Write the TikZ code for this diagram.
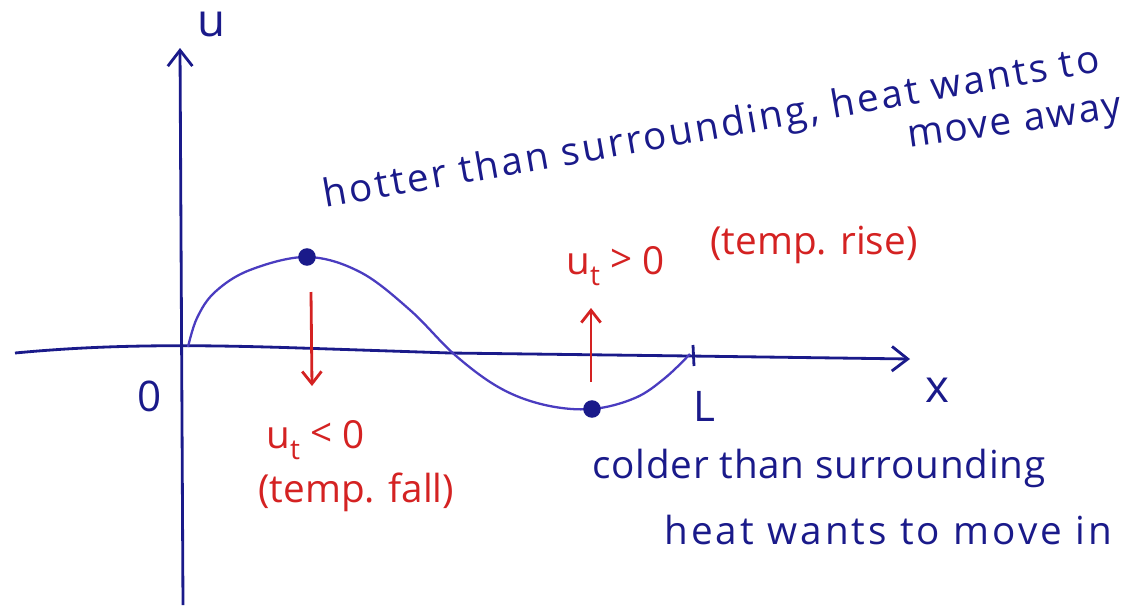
\documentclass[tikz,border=0pt]{standalone}
\usepackage{fontspec}
\setmainfont{Open Sans}
\usetikzlibrary{arrows.meta}
\definecolor{ink}{HTML}{1A1A8A}
\definecolor{curvec}{HTML}{4A3CC0}
\definecolor{redink}{HTML}{D42222}
\tikzset{
  axisline/.style={draw=ink, line width=1.6pt, -{Straight Barb[length=9pt,width=14pt,line width=1.6pt]}},
  navytext/.style={text=ink, font=\fontsize{22}{26}\selectfont, inner sep=0pt},
  redtext/.style={text=redink, font=\fontsize{22}{26}\selectfont, inner sep=0pt},
  redarrow/.style={draw=redink, line width=1.6pt, -{Straight Barb[length=7pt,width=11pt,line width=1.6pt]}},
  dotc/.style={circle, fill=ink, minimum size=10pt, inner sep=0pt},
}
\newcommand{\ut}{u\raisebox{-0.55ex}{\fontsize{16}{18}\selectfont t}}
\begin{document}
\begin{tikzpicture}[x=0.02cm,y=-0.02cm]
\useasboundingbox (0,0) rectangle (1144,609);
% axes
\coordinate (ybot) at (183,605);
\coordinate (ytop) at (180,48);
\coordinate (xleft) at (15,353);
\coordinate (xright) at (910,359);
\draw[axisline] (ybot) -- (ytop);
\draw[draw=ink, line width=1.6pt] (xleft) .. controls (100,345) and (180,344) .. (300,348) -- (450,353) -- (690,356);
\coordinate (xmid) at (690,356);
\draw[axisline] (xmid) -- (xright);
\draw[draw=ink, line width=1.6pt] (693,345) -- (694,366);
% curve
\draw[curvec, line width=1.3pt] plot[smooth, tension=0.6] coordinates {(188,347) (197,318) (215,292) (250,270) (307,257) (360,272) (410,310) (455,355) (500,388) (545,405) (592,409) (635,398) (665,378) (690,354)};
\node[dotc] (max) at (307,257) {};
\node[dotc] (min) at (592,409) {};
% red arrows
\coordinate (d1) at (311,292);
\coordinate (d2) at (312,386);
\draw[redarrow] (d1) -- (d2);
\coordinate (u1) at (591,382);
\coordinate (u2) at (591,308);
\draw[redarrow] (u1) -- (u2);
% axis labels
\node[navytext, font=\fontsize{26}{30}\selectfont] (ulab) at (212,24) {u};
\node[navytext, font=\fontsize{26}{30}\selectfont] (xlab) at (937,390) {x};
\node[navytext, font=\fontsize{24}{28}\selectfont] (zero) at (150,396) {0};
\node[navytext, font=\fontsize{24}{28}\selectfont] (Llab) at (704,406) {L};
% red labels
\node[redtext, anchor=west] (utpos) at (566,266) {\ut\ \raisebox{0.1ex}{>}\ 0};
\node[redtext, anchor=west] (rise) at (710,245) {(temp. rise)};
\node[redtext, anchor=west] (utneg) at (266,440) {\ut\ \raisebox{0.1ex}{<}\ 0};
\node[redtext, anchor=west] (fall) at (258,492) {(temp. fall)};
% navy text
\node[navytext, anchor=base west, rotate=10, font=\fontsize{22}{26}\selectfont\addfontfeature{LetterSpace=7}] (hot) at (325,208) {hotter than surrounding, heat wants to};
\node[navytext, rotate=8, font=\fontsize{22}{26}\selectfont\addfontfeature{LetterSpace=5}] (away) at (1015,127) {move away};
\node[navytext, anchor=west, font=\fontsize{22}{26}\selectfont\addfontfeature{LetterSpace=2}] (cold) at (592,468) {colder than surrounding};
\node[navytext, anchor=west, font=\fontsize{22}{26}\selectfont\addfontfeature{LetterSpace=8}] (movein) at (664,530) {heat wants to move in};
\end{tikzpicture}
\end{document}
